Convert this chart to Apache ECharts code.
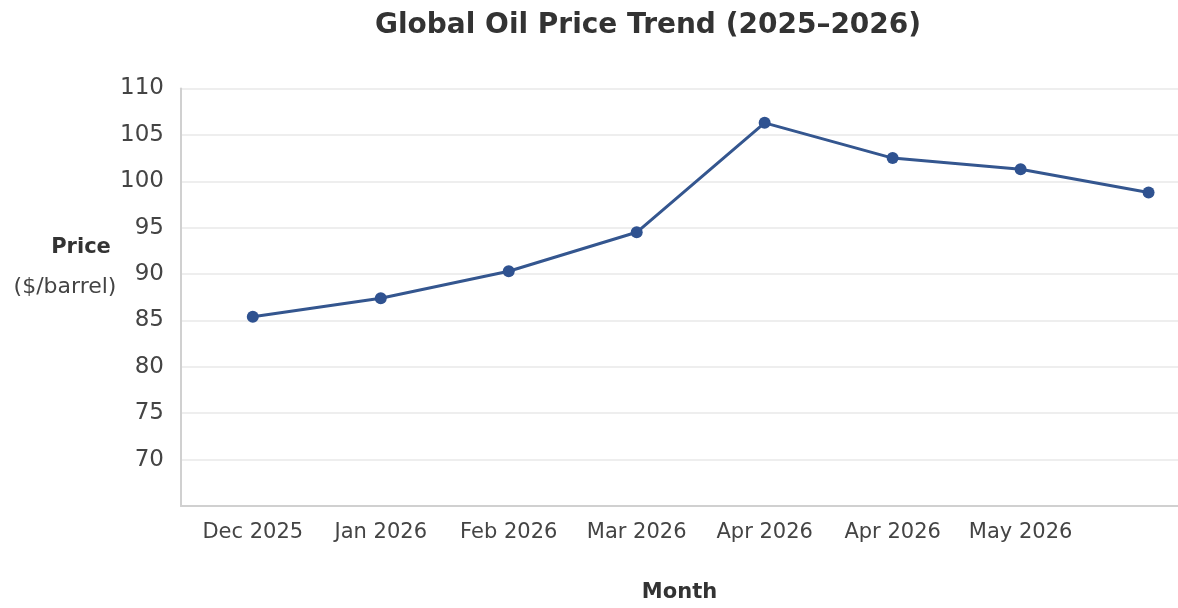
<!DOCTYPE html>
<html>
<head>
<meta charset="utf-8">
<title>Global Oil Price Trend (2025–2026)</title>
<script src="https://cdn.jsdelivr.net/npm/echarts@6/dist/echarts.min.js"></script>
<style>
  html, body { margin: 0; padding: 0; background: #ffffff; overflow: hidden; }
  #chart { width: 1178px; height: 608px; }
</style>
</head>
<body>
<div id="chart"></div>
<script>
// Month labels along the x axis (the final point carries no label)
const months = ['Dec 2025', 'Jan 2026', 'Feb 2026', 'Mar 2026', 'Apr 2026', 'Apr 2026', 'May 2026', ''];
// Oil price in $/barrel for each month
const prices = [85.4, 87.4, 90.3, 94.5, 106.3, 102.5, 101.3, 98.8];
// Y axis tick values
const yTicks = [70, 75, 80, 85, 90, 95, 100, 105, 110];

const FONT = '"DejaVu Sans", Verdana, sans-serif';
const labelled = months.map((m, i) => i).filter(i => months[i] !== '');

const chart = echarts.init(document.getElementById('chart'), null, { renderer: 'canvas' });

chart.setOption({
  backgroundColor: '#ffffff',
  animation: false,
  title: {
    text: 'Global Oil Price Trend (2025–2026)',
    left: 370,
    top: 7,
    textStyle: { fontFamily: FONT, fontSize: 28, fontWeight: 'bold', color: '#333333' }
  },
  grid: { left: 181, right: 0, top: 88.5, bottom: 88.5, containLabel: false },
  xAxis: {
    type: 'value',
    min: -0.561,
    max: 7.23,
    axisLine: { show: true, onZero: false, lineStyle: { color: '#d0d0d0', width: 2 } },
    axisTick: { show: false },
    splitLine: { show: false },
    axisLabel: {
      customValues: labelled,
      formatter: v => months[Math.round(v)] || '',
      fontFamily: FONT,
      fontSize: 21,
      color: '#444444',
      margin: 16
    },
    name: 'Month',
    nameLocation: 'middle',
    nameGap: 76,
    nameTextStyle: { fontFamily: FONT, fontSize: 21, fontWeight: 'bold', color: '#333333' }
  },
  yAxis: {
    type: 'value',
    min: 65,
    max: 110,
    interval: 5,
    axisLine: { show: true, onZero: false, lineStyle: { color: '#d0d0d0', width: 2 } },
    axisTick: { show: false },
    splitLine: { show: true, lineStyle: { color: '#e8e8e8', width: 1.5 } },
    axisLabel: {
      formatter: v => (yTicks.indexOf(v) >= 0 ? String(v) : ''),
      fontFamily: FONT,
      fontSize: 23,
      color: '#444444',
      margin: 17
    }
  },
  graphic: [
    {
      type: 'text',
      x: 81, y: 248,
      style: { text: 'Price', fontFamily: FONT, fontSize: 21, fontWeight: 'bold', fill: '#333333', align: 'center', verticalAlign: 'middle' }
    },
    {
      type: 'text',
      x: 65, y: 287,
      style: { text: '($/barrel)', fontFamily: FONT, fontSize: 22, fill: '#444444', align: 'center', verticalAlign: 'middle' }
    }
  ],
  series: [{
    type: 'line',
    data: prices.map((p, i) => [i, p]),
    symbol: 'circle',
    symbolSize: 12,
    lineStyle: { color: '#34568f', width: 3 },
    itemStyle: { color: '#2f5290' }
  }]
});
</script>
</body>
</html>
